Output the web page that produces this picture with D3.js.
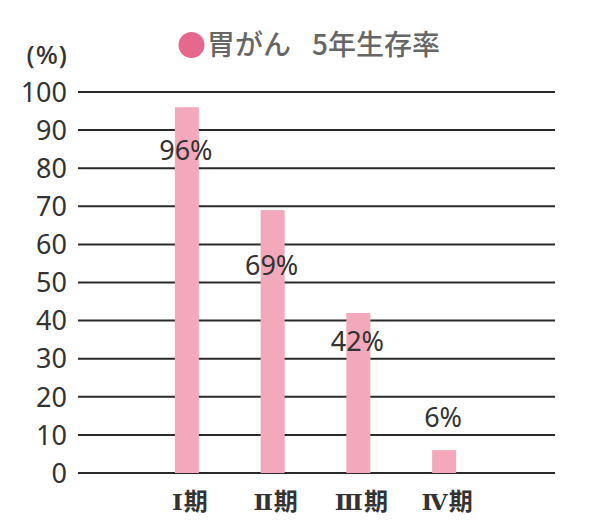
<!DOCTYPE html>
<html>
<head>
<meta charset="utf-8">
<script src="https://cdn.jsdelivr.net/npm/d3@7"></script>
<style>
html,body{margin:0;padding:0;background:#fff;}
svg{display:block;}
</style>
</head>
<body>
<svg id="chart" width="600" height="523"></svg>
<script>
// ---- data ----
const stageNumerals = ["Ⅰ", "Ⅱ", "Ⅲ", "Ⅳ"];
const stageSuffix = "期";
const categories = stageNumerals.map(n => n + stageSuffix);
const survivalRates = [96, 69, 42, 6];
const valueLabels = ["96%", "69%", "42%", "6%"];
const labelBands = [80, 50, 30, 10]; // gridline band under which each label sits
const yTicks = [0, 10, 20, 30, 40, 50, 60, 70, 80, 90, 100];
const titleMain = "胃がん";
const titleSub = "5年生存率";
const unitLabel = "(%)";

// ---- layout ----
const svg = d3.select("#chart");
const gridLeft = 78, gridRight = 555;
const y = d3.scaleLinear().domain([0, 100]).range([473, 92]);
const x = d3.scalePoint().domain(categories).range([144, 487]).padding(0.5);
const barW = 24;
const numFont = "'Noto Sans', 'DejaVu Sans', sans-serif";
const cjkFont = "'Noto Sans CJK JP', 'Noto Sans', sans-serif";
const serifFont = "'DejaVu Serif', 'Liberation Serif', serif";

// gridlines
svg.append("g").selectAll("line").data(yTicks).join("line")
  .attr("x1", gridLeft).attr("x2", gridRight)
  .attr("y1", d => y(d)).attr("y2", d => y(d))
  .attr("stroke", "#2a2a2a").attr("stroke-width", 2);

// y tick labels
svg.append("g").selectAll("text").data(yTicks).join("text")
  .attr("x", 67).attr("y", d => y(d))
  .attr("dy", "0.36em")
  .attr("text-anchor", "end")
  .attr("font-family", numFont).attr("font-size", 27)
  .attr("fill", "#333")
  .text(d => d);

// unit
svg.append("text")
  .attr("x", 68).attr("y", 64)
  .attr("text-anchor", "end")
  .attr("font-family", numFont).attr("font-size", 26).attr("font-weight", 500)
  .attr("letter-spacing", 1)
  .attr("fill", "#333")
  .text(unitLabel);

// bars
svg.append("g").selectAll("rect").data(survivalRates).join("rect")
  .attr("x", (d, i) => x(categories[i]) - barW / 2)
  .attr("width", barW)
  .attr("y", d => y(d))
  .attr("height", d => y(0) - y(d))
  .attr("fill", "#f3a9bb");

// value labels
svg.append("g").selectAll("text").data(valueLabels).join("text")
  .attr("x", (d, i) => x(categories[i]) - 1)
  .attr("y", (d, i) => y(labelBands[i]) - 8)
  .attr("text-anchor", "middle")
  .attr("font-family", numFont).attr("font-size", 27)
  .attr("fill", "#333")
  .text(d => d);

// x labels
const xl = svg.append("g").selectAll("text").data(categories).join("text")
  .attr("x", d => x(d) + 3)
  .attr("y", 510)
  .attr("text-anchor", "middle")
  .attr("font-size", 24).attr("font-weight", 700)
  .attr("fill", "#333");
xl.append("tspan").attr("font-family", serifFont).attr("font-size", 23)
  .attr("letter-spacing", -1)
  .text((d, i) => stageNumerals[i]);
xl.append("tspan").attr("font-family", cjkFont).attr("dx", 2).text(stageSuffix);

// title
svg.append("circle").attr("cx", 191.5).attr("cy", 45).attr("r", 13).attr("fill", "#e6688c");
const title = svg.append("text")
  .attr("y", 55)
  .attr("font-family", cjkFont).attr("font-size", 28).attr("font-weight", 500)
  .attr("fill", "#666");
title.append("tspan").attr("x", 207).text(titleMain);
title.append("tspan").attr("x", 312).text(titleSub);
</script>
</body>
</html>
